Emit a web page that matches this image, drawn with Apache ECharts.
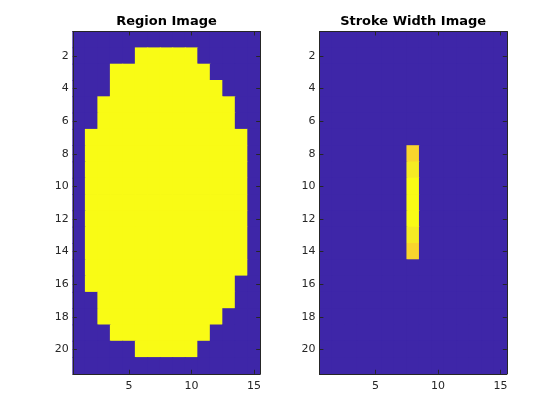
<!DOCTYPE html>
<html>
<head>
<meta charset="utf-8">
<script src="https://cdn.jsdelivr.net/npm/echarts@6/dist/echarts.min.js"></script>
<style>html,body{margin:0;padding:0;background:#fff}#c{width:560px;height:420px}</style>
</head>
<body>
<div id="c"></div>
<script>
// ---- data ----
const xCategories = ['1','2','3','4','5','6','7','8','9','10','11','12','13','14','15'];
const yCategories = ['1','2','3','4','5','6','7','8','9','10','11','12','13','14','15','16','17','18','19','20','21'];
const xTickLabels = ['5','10','15'];
const yTickLabels = ['2','4','6','8','10','12','14','16','18','20'];
const titles = ['Region Image', 'Stroke Width Image'];

// binary region image (rows top to bottom, 15 columns)
const regionImage = [
  [0,0,0,0,0,0,0,0,0,0,0,0,0,0,0],
  [0,0,0,0,0,1,1,1,1,1,0,0,0,0,0],
  [0,0,0,1,1,1,1,1,1,1,1,0,0,0,0],
  [0,0,0,1,1,1,1,1,1,1,1,1,0,0,0],
  [0,0,1,1,1,1,1,1,1,1,1,1,1,0,0],
  [0,0,1,1,1,1,1,1,1,1,1,1,1,0,0],
  [0,1,1,1,1,1,1,1,1,1,1,1,1,1,0],
  [0,1,1,1,1,1,1,1,1,1,1,1,1,1,0],
  [0,1,1,1,1,1,1,1,1,1,1,1,1,1,0],
  [0,1,1,1,1,1,1,1,1,1,1,1,1,1,0],
  [0,1,1,1,1,1,1,1,1,1,1,1,1,1,0],
  [0,1,1,1,1,1,1,1,1,1,1,1,1,1,0],
  [0,1,1,1,1,1,1,1,1,1,1,1,1,1,0],
  [0,1,1,1,1,1,1,1,1,1,1,1,1,1,0],
  [0,1,1,1,1,1,1,1,1,1,1,1,1,1,0],
  [0,1,1,1,1,1,1,1,1,1,1,1,1,0,0],
  [0,0,1,1,1,1,1,1,1,1,1,1,1,0,0],
  [0,0,1,1,1,1,1,1,1,1,1,1,0,0,0],
  [0,0,0,1,1,1,1,1,1,1,1,0,0,0,0],
  [0,0,0,0,0,1,1,1,1,1,0,0,0,0,0],
  [0,0,0,0,0,0,0,0,0,0,0,0,0,0,0]
];

// stroke width image: background 0, skeleton column values
const strokeColumn = 8;
const strokeRows = [8, 9, 10, 11, 12, 13, 14];
const strokeValues = [6.325, 6.708, 7, 7, 7, 6.708, 6.325];

// ---- style constants ----
const parula = [
'#3e26a8','#402ab4','#422ebf','#4332cb','#4537d5','#463bde','#4741e5','#4747eb',
'#474df0','#4852f4','#4758f8','#465efb','#4563fc','#4269fe','#3e6fff','#3875fe',
'#327bfc','#2f81fa','#2d86f7','#2d8cf3','#2b91ee','#2796eb','#2599e7','#239fe5',
'#20a5e3','#1ca9df','#18add9','#11b1d4','#08b4d0','#01b8ca','#02bac3','#0bbdbc',
'#18bfb6','#24c1ae','#2cc3a7','#31c69f','#37c897','#3fca8e','#4acb84','#57cc7a',
'#63cc6f','#71cc64','#80cc59','#8fcb4e','#9dc943','#abc739','#b9c430','#c5c22a',
'#d1bf27','#dcbd29','#e6bb2d','#efba36','#f8ba3d','#febe3c','#fec338','#fec933',
'#fccf30','#f9d62d','#f7dc2a','#f5e327','#f5e924','#f5ef20','#f7f51b','#f9fb15'
];
const axisColor = '#262626';
const fontFamily = 'DejaVu Sans';

// ---- build ----
function regionData() {
  const out = [];
  for (let r = 0; r < regionImage.length; r++)
    for (let c = 0; c < regionImage[r].length; c++)
      out.push([c, r, regionImage[r][c]]);
  return out;
}
function strokeData() {
  const grid = yCategories.map(() => xCategories.map(() => 0));
  strokeRows.forEach((row, i) => { grid[row - 1][strokeColumn - 1] = strokeValues[i]; });
  const out = [];
  for (let r = 0; r < grid.length; r++)
    for (let c = 0; c < grid[r].length; c++)
      out.push([c, r, grid[r][c]]);
  return out;
}

const grids = [
  {left: 72.8, top: 31.5, width: 187.4, height: 342.3, show: true, backgroundColor: parula[0], borderWidth: 0},
  {left: 319.4, top: 31.5, width: 187.4, height: 342.3, show: true, backgroundColor: parula[0], borderWidth: 0}
];
const xTick = (i, v) => xTickLabels.indexOf(v) >= 0;
const yTick = (i, v) => yTickLabels.indexOf(v) >= 0;

function xAxisFor(gi, pos) {
  return {
    gridIndex: gi, type: 'category', data: xCategories, position: pos, z: 10,
    axisLine: {show: true, onZero: false, lineStyle: {color: axisColor, width: 1}},
    axisTick: {show: true, inside: true, length: 4, alignWithLabel: true, interval: xTick,
               lineStyle: {color: axisColor, width: 1}},
    axisLabel: {show: pos === 'bottom', interval: xTick, margin: 7, fontSize: 11,
                color: axisColor, fontFamily: fontFamily},
    splitLine: {show: false}
  };
}
function yAxisFor(gi, pos) {
  return {
    gridIndex: gi, type: 'category', data: yCategories, position: pos, inverse: true, z: 10,
    axisLine: {show: true, onZero: false, lineStyle: {color: axisColor, width: 1}},
    axisTick: {show: true, inside: true, length: 4, alignWithLabel: true, interval: yTick,
               lineStyle: {color: axisColor, width: 1}},
    axisLabel: {show: pos === 'left', interval: yTick, margin: 4, fontSize: 11,
                color: axisColor, fontFamily: fontFamily},
    splitLine: {show: false}
  };
}

// image cells drawn through the axes' own coordinate mapping, with a slight overlap to avoid seams
function renderCell(params, api) {
  const p = api.coord([api.value(0), api.value(1)]);
  const s = api.size([1, 1]);
  const pad = 0.4;
  return {
    type: 'rect',
    shape: {x: p[0] - s[0] / 2 - pad, y: p[1] - s[1] / 2 - pad, width: s[0] + 2 * pad, height: s[1] + 2 * pad},
    style: {fill: api.visual('color'), stroke: null}
  };
}

const chart = echarts.init(document.getElementById('c'), null, {renderer: 'canvas'});
chart.setOption({
  animation: false,
  backgroundColor: '#ffffff',
  title: titles.map((t, i) => ({
    text: t,
    left: grids[i].left + grids[i].width / 2,
    textAlign: 'center',
    top: 15,
    padding: 0,
    textStyle: {fontFamily: fontFamily, fontWeight: 'bold', fontSize: 13, color: '#000000'}
  })),
  grid: grids,
  xAxis: [xAxisFor(0, 'bottom'), xAxisFor(0, 'top'), xAxisFor(1, 'bottom'), xAxisFor(1, 'top')],
  yAxis: [yAxisFor(0, 'left'), yAxisFor(0, 'right'), yAxisFor(1, 'left'), yAxisFor(1, 'right')],
  visualMap: [
    {show: false, type: 'continuous', seriesIndex: 0, min: 0, max: 1, dimension: 2,
     inRange: {color: parula}},
    {show: false, type: 'continuous', seriesIndex: 1, min: 0, max: Math.max.apply(null, strokeValues), dimension: 2,
     inRange: {color: parula}}
  ],
  series: [
    {type: 'custom', xAxisIndex: 0, yAxisIndex: 0, data: regionData(), renderItem: renderCell,
     encode: {x: 0, y: 1}, silent: true},
    {type: 'custom', xAxisIndex: 2, yAxisIndex: 2, data: strokeData(), renderItem: renderCell,
     encode: {x: 0, y: 1}, silent: true}
  ]
});
</script>
</body>
</html>
